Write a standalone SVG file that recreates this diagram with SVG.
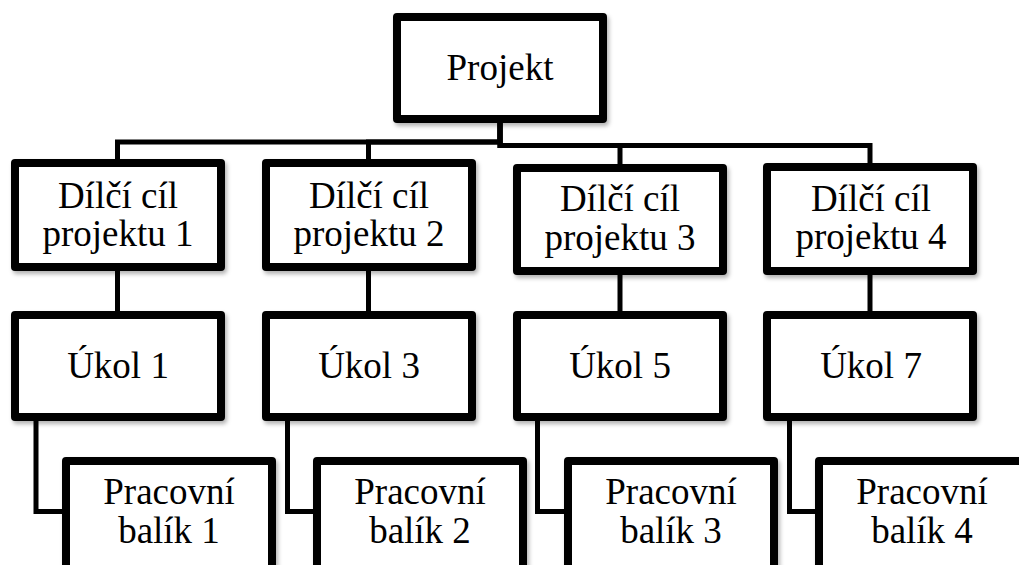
<svg xmlns="http://www.w3.org/2000/svg" width="1019" height="565" viewBox="0 0 1019 565">
  <style>
    .box { fill: #ffffff; stroke: #000000; stroke-width: 8; stroke-linejoin: round; filter: url(#shadow); }
    .link { fill: none; stroke: #000000; stroke-width: 5; stroke-linejoin: miter; }
    .label { font-family: "Liberation Serif", "Times New Roman", serif; font-size: 37px; fill: #000000; text-anchor: middle; }
  </style>
  <defs>
    <filter id="shadow" x="-10%" y="-10%" width="125%" height="130%">
      <feDropShadow dx="2" dy="3" stdDeviation="2" flood-color="#000000" flood-opacity="0.3"/>
    </filter>
  </defs>
  <rect width="1019" height="565" fill="#ffffff"/>

  <!-- connectors -->
  <g id="connectors">
    <path class="link" d="M500,123 V142 H117.5 V160"/>
    <path class="link" d="M500,123 V142 H368.5 V160"/>
    <path class="link" d="M500,123 V145.5 H620 V165"/>
    <path class="link" d="M500,123 V145.5 H870 V164"/>
    <path class="link" d="M117.5,270 V312"/>
    <path class="link" d="M368.5,270 V312"/>
    <path class="link" d="M620,274 V312"/>
    <path class="link" d="M870,274 V312"/>
    <path class="link" d="M36,420 V511.5 H63"/>
    <path class="link" d="M287.5,420 V511.5 H314"/>
    <path class="link" d="M537.5,420 V511.5 H565"/>
    <path class="link" d="M789.5,420 V511.5 H816"/>
  </g>

  <!-- root -->
  <g id="projekt">
    <rect class="box" x="397" y="17" width="206" height="102"/>
    <text class="label" x="500" y="80">Projekt</text>
  </g>

  <!-- sub-goals -->
  <g id="cil1">
    <rect class="box" x="15" y="163" width="206" height="104"/>
    <text class="label" x="118" y="208">Dílčí cíl</text>
    <text class="label" x="118" y="246">projektu 1</text>
  </g>
  <g id="cil2">
    <rect class="box" x="266" y="163" width="206" height="104"/>
    <text class="label" x="369" y="208">Dílčí cíl</text>
    <text class="label" x="369" y="246">projektu 2</text>
  </g>
  <g id="cil3">
    <rect class="box" x="517" y="168" width="206" height="103"/>
    <text class="label" x="620" y="211">Dílčí cíl</text>
    <text class="label" x="620" y="249.5">projektu 3</text>
  </g>
  <g id="cil4">
    <rect class="box" x="767" y="167" width="206" height="104"/>
    <text class="label" x="871" y="211">Dílčí cíl</text>
    <text class="label" x="871" y="249">projektu 4</text>
  </g>

  <!-- tasks -->
  <g id="ukol1">
    <rect class="box" x="15" y="315" width="206" height="102"/>
    <text class="label" x="118" y="378">Úkol 1</text>
  </g>
  <g id="ukol3">
    <rect class="box" x="266" y="315" width="206" height="102"/>
    <text class="label" x="369" y="378">Úkol 3</text>
  </g>
  <g id="ukol5">
    <rect class="box" x="517" y="315" width="206" height="102"/>
    <text class="label" x="620" y="378">Úkol 5</text>
  </g>
  <g id="ukol7">
    <rect class="box" x="767" y="315" width="206" height="102"/>
    <text class="label" x="871" y="378">Úkol 7</text>
  </g>

  <!-- work packages -->
  <g id="balik1">
    <rect class="box" x="66" y="461" width="206" height="200"/>
    <text class="label" x="169" y="504">Pracovní</text>
    <text class="label" x="169" y="542.5">balík 1</text>
  </g>
  <g id="balik2">
    <rect class="box" x="317" y="461" width="206" height="200"/>
    <text class="label" x="420" y="504">Pracovní</text>
    <text class="label" x="420" y="542.5">balík 2</text>
  </g>
  <g id="balik3">
    <rect class="box" x="568" y="461" width="206" height="200"/>
    <text class="label" x="671" y="504">Pracovní</text>
    <text class="label" x="671" y="542.5">balík 3</text>
  </g>
  <g id="balik4">
    <rect class="box" x="819" y="461" width="206" height="200"/>
    <text class="label" x="922" y="504">Pracovní</text>
    <text class="label" x="922" y="542.5">balík 4</text>
  </g>
</svg>
